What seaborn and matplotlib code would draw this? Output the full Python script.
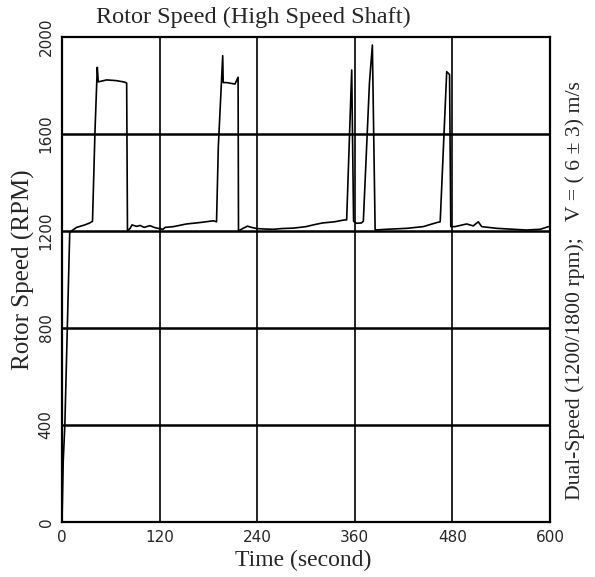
import pandas as pd
import seaborn as sns
from matplotlib import pyplot as plt
from matplotlib import transforms

# rotor speed trace (time in s, speed in rpm)
time_s = [0, 1.5, 3.5, 9.5, 12, 18, 28, 34, 37.5, 40.6, 43.4, 44.6, 55, 67, 77, 79.5,
          80.5, 84, 86, 92, 96, 101, 108, 114, 118, 124, 127, 137, 153, 170, 186, 190,
          192.2, 197.6, 198.2, 202.5, 212.7, 216.5, 217, 222, 228, 234, 240, 250, 260,
          270, 285, 300, 310, 320, 335, 346, 350, 356.2, 358.5, 362, 368, 370.5, 378,
          381.6, 385, 399, 424, 444, 461, 465, 473, 476.5, 478, 483, 497.5, 505.7,
          511.8, 516, 534.5, 555, 571, 588, 598]
rpm = [0, 250, 400, 1195, 1201, 1215, 1225, 1233, 1240, 1616, 1875, 1815, 1823, 1820, 1814, 1810,
       1200, 1212, 1225, 1219, 1223, 1215, 1222, 1214, 1211, 1207, 1215, 1218, 1229, 1235, 1242, 1238,
       1548, 1923, 1812, 1812, 1806, 1834, 1200, 1210, 1220, 1214, 1210, 1208, 1207,
       1210, 1212, 1218, 1226, 1233, 1238, 1245, 1246, 1864, 1240, 1232, 1233, 1240, 1810,
       1967, 1204, 1207, 1211, 1218, 1235, 1238, 1857, 1845, 1218, 1218, 1229, 1221,
       1238, 1218, 1211, 1207, 1204, 1207, 1218]

x_ticks = [0, 120, 240, 360, 480, 600]
y_ticks = [0, 400, 800, 1200, 1600, 2000]

df = pd.DataFrame({'t': time_s, 'rpm': rpm})

sns.set_style("white")
serif = ['Liberation Serif', 'DejaVu Serif']
narrow = ['Liberation Sans Narrow', 'DejaVu Sans']

fig = plt.figure(figsize=(5.95, 5.77), dpi=100)
ax = fig.add_axes([62/595, 1-522/577, 488/595, 485/577])

for v in x_ticks[1:-1]:
    ax.axvline(v, color='black', lw=1.2, zorder=1)
for h in y_ticks[1:-1]:
    ax.axhline(h, color='black', lw=1.8, zorder=1)

sns.lineplot(data=df, x='t', y='rpm', color='black', lw=1.2, ax=ax, zorder=2)

ax.set_xlim(0, 600)
ax.set_ylim(0, 2000)
ax.set_xticks(x_ticks)
ax.set_yticks(y_ticks)
ax.set_xticklabels([str(v) for v in x_ticks], fontsize=11, family=narrow)
ax.set_yticklabels([str(v) for v in y_ticks], fontsize=11, family=narrow, rotation=90, va='center')
shift = transforms.ScaledTranslation(0, 0.08, fig.dpi_scale_trans)
for lbl in ax.get_yticklabels():
    lbl.set_transform(lbl.get_transform() + shift)
ax.tick_params(direction='out', length=4, width=1.2, color='black', pad=2)
for s in ax.spines.values():
    s.set_color('black')
    s.set_linewidth(1.6)

ax.set_xlabel('')
ax.set_ylabel('')
fig.text(0.426, 0.970, 'Rotor Speed (High Speed Shaft)', family=serif, fontsize=17.5,
         ha='center', va='center')
fig.text(0.51, 0.028, 'Time (second)', family=serif, fontsize=17, ha='center', va='center')
fig.text(0.039, 0.532, 'Rotor Speed (RPM)', family=serif, fontsize=18, rotation=90,
         ha='center', va='center')
fig.text(0.966, 0.496, 'Dual-Speed (1200/1800 rpm);   V = ( 6 \u00b1 3) m/s', family=serif,
         fontsize=15.7, rotation=90, ha='center', va='center')

fig.savefig('out.png', dpi=100)
